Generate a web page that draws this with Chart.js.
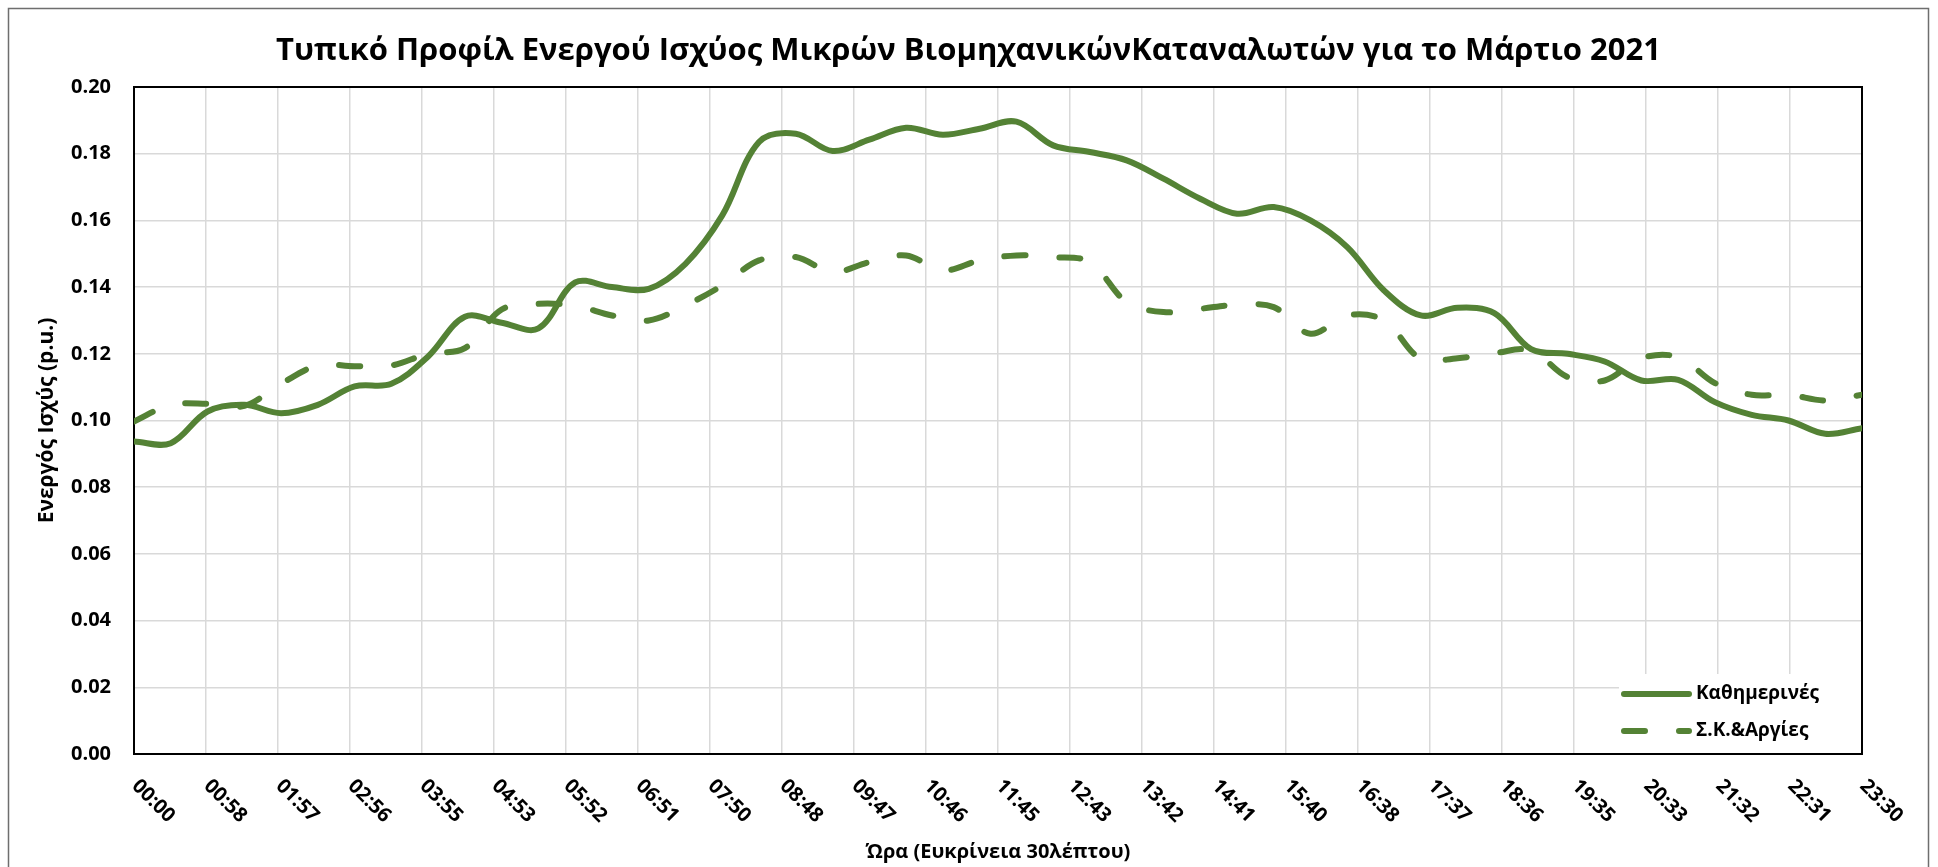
<!DOCTYPE html>
<html lang="el">
<head>
<meta charset="utf-8">
<title>Τυπικό Προφίλ Ενεργού Ισχύος</title>
<script src="https://cdn.jsdelivr.net/npm/chart.js@4.4.1/dist/chart.umd.min.js"></script>
<style>
  html, body { margin: 0; padding: 0; background: #fff; }
  canvas { display: block; }
</style>
</head>
<body>
<canvas id="chart" width="1938" height="867"></canvas>
<script>
// Ώρες μετρήσεων (30λεπτα)
const times = [
  '00:00','00:30','01:00','01:30','02:00','02:30','03:00','03:30',
  '04:00','04:30','05:00','05:30','06:00','06:30','07:00','07:30',
  '08:00','08:30','09:00','09:30','10:00','10:30','11:00','11:30',
  '12:00','12:30','13:00','13:30','14:00','14:30','15:00','15:30',
  '16:00','16:30','17:00','17:30','18:00','18:30','19:00','19:30',
  '20:00','20:30','21:00','21:30','22:00','22:30','23:00','23:30'
];

const weekdays = [
  0.0937, 0.0932, 0.1027, 0.1047, 0.1022, 0.1047, 0.1102, 0.1110,
  0.1192, 0.1311, 0.1293, 0.1276, 0.1414, 0.1400, 0.1395, 0.1470,
  0.1615, 0.1835, 0.1860, 0.1808, 0.1842, 0.1878, 0.1857, 0.1875,
  0.1896, 0.1825, 0.1805, 0.1780, 0.1725, 0.1665, 0.1620, 0.1640,
  0.1600, 0.1520, 0.1390, 0.1315, 0.1338, 0.1322, 0.1214, 0.1200,
  0.1177, 0.1120, 0.1122, 0.1055, 0.1017, 0.1000, 0.0960, 0.0977
];

const weekends = [
  0.0997, 0.1047, 0.1050, 0.1044, 0.1110, 0.1165, 0.1163, 0.1165,
  0.1200, 0.1217, 0.1333, 0.1350, 0.1344, 0.1315, 0.1300, 0.1345,
  0.1405, 0.1480, 0.1490, 0.1445, 0.1475, 0.1495, 0.1450, 0.1480,
  0.1495, 0.1490, 0.1475, 0.1355, 0.1325, 0.1335, 0.1347, 0.1340,
  0.1260, 0.1315, 0.1300, 0.1185, 0.1187, 0.1202, 0.1210, 0.1130,
  0.1120, 0.1187, 0.1190, 0.1112, 0.1077, 0.1077, 0.1060, 0.1077
];

// Ετικέτες άξονα Χ όπως στο Excel
const tickLabels = [
  '00:00','00:58','01:57','02:56','03:55','04:53','05:52','06:51','07:50',
  '08:48','09:47','10:46','11:45','12:43','13:42','14:41','15:40','16:38',
  '17:37','18:36','19:35','20:33','21:32','22:31','23:30'
];

const GREEN = '#548235';
const FONT = "'Open Sans', 'DejaVu Sans', sans-serif";

const toMinutes = t => {
  const [h, m] = t.split(':').map(Number);
  return h * 60 + m;
};
const xMax = toMinutes(times[times.length - 1]);

Chart.defaults.font.family = FONT;
Chart.defaults.color = '#000';

// λευκό φόντο + εξωτερικό πλαίσιο
const frame = {
  id: 'frame',
  beforeDraw(chart) {
    const { ctx, width, height } = chart;
    ctx.save();
    ctx.fillStyle = '#fff';
    ctx.fillRect(0, 0, width, height);
    ctx.strokeStyle = '#6e6e6e';
    ctx.lineWidth = 1.5;
    ctx.strokeRect(8.5, 8.5, 1920, height + 20);
    ctx.restore();
  },
  beforeDatasetsDraw(chart) {
    const { ctx, chartArea: a } = chart;
    ctx.save();
    ctx.strokeStyle = '#000';
    ctx.lineWidth = 2;
    ctx.strokeRect(a.left, a.top, a.right - a.left, a.bottom - a.top);
    ctx.restore();
  }
};

// υπόμνημα μέσα στην περιοχή σχεδίασης (κάτω δεξιά)
const insideLegend = {
  id: 'insideLegend',
  afterDatasetsDraw(chart) {
    const { ctx, chartArea: a } = chart;
    const right = a.right - 1, bottom = a.bottom - 1;
    ctx.save();
    ctx.fillStyle = '#fff';
    ctx.fillRect(right - 242, bottom - 79, 242, 79);
    chart.data.datasets.forEach((ds, i) => {
      const y = bottom - 59 + i * 37;
      ctx.beginPath();
      ctx.setLineDash(ds.borderDash || []);
      ctx.lineCap = 'round';
      ctx.lineWidth = ds.borderWidth;
      ctx.strokeStyle = ds.borderColor;
      ctx.moveTo(right - 237, y);
      ctx.lineTo(right - 172, y);
      ctx.stroke();
      ctx.setLineDash([]);
      ctx.fillStyle = '#000';
      ctx.font = 'bold 19px ' + FONT;
      ctx.textBaseline = 'middle';
      ctx.textAlign = 'left';
      ctx.fillText(ds.label, right - 165, y);
    });
    ctx.restore();
  }
};

// ετικέτες Χ με κλίση προς τα κάτω-δεξιά
const slantedTicks = {
  id: 'slantedTicks',
  afterDraw(chart) {
    const { ctx } = chart;
    const xs = chart.scales.x;
    ctx.save();
    ctx.font = 'bold 20px ' + FONT;
    ctx.fillStyle = '#000';
    ctx.textAlign = 'left';
    ctx.textBaseline = 'middle';
    xs.ticks.forEach((t, i) => {
      const px = xs.getPixelForValue(t.value);
      ctx.save();
      ctx.translate(px + 1, xs.top + 29);
      ctx.rotate(Math.PI / 4);
      ctx.fillText(tickLabels[i], 0, 0);
      ctx.restore();
    });
    ctx.restore();
  }
};

new Chart(document.getElementById('chart'), {
  type: 'line',
  data: {
    datasets: [
      {
        label: 'Καθημερινές',
        data: times.map((t, i) => ({ x: toMinutes(t), y: weekdays[i] })),
        borderColor: GREEN,
        borderWidth: 6,
        borderCapStyle: 'round',
        pointRadius: 0,
        tension: 0.35
      },
      {
        label: 'Σ.Κ.&Αργίες',
        data: times.map((t, i) => ({ x: toMinutes(t), y: weekends[i] })),
        borderColor: GREEN,
        borderWidth: 6,
        borderDash: [21, 34],
        borderCapStyle: 'round',
        pointRadius: 0,
        tension: 0.35
      }
    ]
  },
  options: {
    responsive: false,
    animation: false,
    devicePixelRatio: 1,
    layout: { padding: { left: 8, right: 9, top: 15, bottom: 0 } },
    plugins: {
      legend: { display: false },
      tooltip: { enabled: false },
      title: {
        display: true,
        text: 'Τυπικό Προφίλ Ενεργού Ισχύος Μικρών ΒιομηχανικώνΚαταναλωτών για το Μάρτιο 2021',
        color: '#000',
        font: { size: 31, weight: 'bold', lineHeight: 1.2 },
        padding: { top: 17.4, bottom: 17.4 }
      }
    },
    scales: {
      x: {
        type: 'linear',
        min: 0,
        max: xMax,
        afterBuildTicks(scale) {
          scale.ticks = tickLabels.map((l, i) => ({ value: i * xMax / (tickLabels.length - 1) }));
        },
        afterFit(scale) { scale.height = 113; },
        grid: { color: '#d9d9d9', lineWidth: 1.5, drawTicks: false },
        border: { display: false },
        ticks: { display: false },
        title: {
          display: true,
          text: 'Ώρα (Ευκρίνεια 30λέπτου)',
          color: '#000',
          font: { size: 20, weight: 'bold', lineHeight: 1.2 },
          padding: { top: 0, bottom: 3 }
        }
      },
      y: {
        min: 0,
        max: 0.2,
        afterFit(scale) { scale.width = 126; },
        grid: { color: '#d9d9d9', lineWidth: 1.5, drawTicks: false },
        border: { display: false },
        ticks: {
          stepSize: 0.02,
          padding: 23,
          font: { size: 20, weight: 'bold' },
          callback: v => v.toFixed(2)
        },
        title: {
          display: true,
          text: 'Ενεργός Ισχύς (p.u.)',
          color: '#000',
          font: { size: 21, weight: 'bold', lineHeight: 1.2 },
          padding: { top: 26.4, bottom: 0 }
        }
      },
      pad: {
        position: 'right',
        display: true,
        afterFit(scale) { scale.width = 67; },
        grid: { display: false },
        border: { display: false },
        ticks: { display: false }
      }
    }
  },
  plugins: [frame, insideLegend, slantedTicks]
});
</script>
</body>
</html>
